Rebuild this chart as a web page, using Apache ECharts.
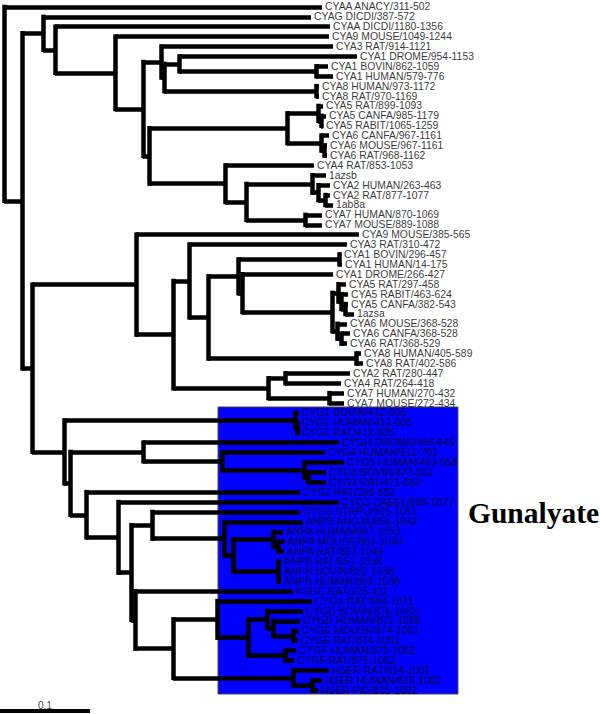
<!DOCTYPE html>
<html><head><meta charset="utf-8">
<script src="https://cdn.jsdelivr.net/npm/echarts@6/dist/echarts.min.js"></script>
<style>html,body{margin:0;padding:0;background:#fff}#c{width:600px;height:714px}</style>
</head><body><div id="c"></div>
<script>
// Leaves, top to bottom
const leafLabels = [
 'CYAA ANACY/311-502','CYAG DICDI/387-572','CYAA DICDI/1180-1356','CYA9 MOUSE/1049-1244','CYA3 RAT/914-1121',
 'CYA1 DROME/954-1153','CYA1 BOVIN/862-1059','CYA1 HUMAN/579-776','CYA8 HUMAN/973-1172','CYA8 RAT/970-1169',
 'CYA5 RAT/899-1093','CYA5 CANFA/985-1179','CYA5 RABIT/1065-1259','CYA6 CANFA/967-1161','CYA6 MOUSE/967-1161',
 'CYA6 RAT/968-1162','CYA4 RAT/853-1053','1azsb','CYA2 HUMAN/263-463','CYA2 RAT/877-1077',
 '1ab8a','CYA7 HUMAN/870-1069','CYA7 MOUSE/889-1088','CYA9 MOUSE/385-565','CYA3 RAT/310-472',
 'CYA1 BOVIN/296-457','CYA1 HUMAN/14-175','CYA1 DROME/266-427','CYA5 RAT/297-458','CYA5 RABIT/463-624',
 'CYA5 CANFA/382-543','1azsa','CYA6 MOUSE/368-528','CYA6 CANFA/368-528','CYA6 RAT/368-529',
 'CYA8 HUMAN/405-589','CYA8 RAT/402-586','CYA2 RAT/280-447','CYA4 RAT/264-418','CYA7 HUMAN/270-432',
 'CYA7 MOUSE/272-434','CYG1 BOVIN/412-605','CYG1 HUMAN/412-605','CYG1 RAT/412-605','CYGH DROME/456-645',
 'CYG4 HUMAN/512-701','CYG5 HUMAN/469-658','CYG3 BOVIN/473-662','CYG3 RAT/471-660','CYG2 RAT/399-582',
 'CYG3 CAEEL/889-1077','CYGS STRPU/905-1091','ANPB ANGJA/856-1042','ANPA HUMAN/867-1053','ANPA MOUSE/863-1049',
 'ANPA RAT/863-1049','ANPB RAT/852-1038','ANPB BOVIN/852-1038','ANPB HUMAN/852-1038','KSGC RAT/225-411',
 'CYGX RAT/884-1071','CYGD BOVIN/876-1063','CYGD HUMAN/871-1058','CYGE MOUSE/874-1061','CYGE RAT/874-1061',
 'CYGF HUMAN/875-1062','CYGF RAT/875-1062','HSER RAT/814-1001','HSER HUMAN/815-1002','HSER PIG/815-1002'
];
// internal node each leaf hangs from
const leafParent = [
 0,2,3,4,6, 8,9,9,10,10, 13,14,14,15,16, 16,17,19,20,21,
 21,22,22,24,26, 29,29,30,32,33, 34,34,35,36,36, 37,37,39,39,40,
 40,42,43,43,45, 46,47,48,48,49, 50,52,53,55,56, 56,57,57,57,58,
 60,62,63,64,64, 65,65,66,67,67
];
// distance of each leaf from the root
const leafDepth = [
 0.3533,0.3411,0.3622,0.3611,0.3656, 0.3922,0.3600,0.3656,0.3500,0.3500,
 0.3544,0.3578,0.3544,0.3611,0.3589, 0.3589,0.3444,0.3578,0.3622,0.3622,
 0.3656,0.3533,0.3533,0.3944,0.3811, 0.3744,0.3756,0.3656,0.3800,0.3822,
 0.3822,0.3889,0.3811,0.3844,0.3811, 0.3967,0.3989,0.3844,0.3744,0.3778,
 0.3778,0.3278,0.3278,0.3278,0.3722, 0.3567,0.3778,0.3578,0.3578,0.3289,
 0.3722,0.3289,0.3322,0.3100,0.3122, 0.3111,0.3078,0.3078,0.3078,0.3211,
 0.3422,0.3322,0.3289,0.3278,0.3267, 0.3244,0.3222,0.3611,0.3533,0.3489
];
// internal nodes: parent index (-1 = root) and distance from the root
const nodeParent = [
 -1,0,1,2,3, 4,5,6,7,8, 7,5,11,12,13, 12,15,11,17,18,
 19,20,18,1,23, 24,25,26,27,28, 28,30,31,32,33, 31,35,27,25,38,
 38,23,41,42,41, 44,45,46,47,44, 49,50,51,52,53, 54,55,54,51,58,
 59,60,61,62,63, 61,59,66
];
const nodeDepth = [
 0.0000,0.0200,0.0433,0.0567,0.1233, 0.1544,0.1744,0.1778,0.1944,0.3467,
 0.3467,0.1611,0.3144,0.3489,0.3522, 0.3522,0.3556,0.2456,0.2689,0.3422,
 0.3489,0.3567,0.3344,0.0311,0.1467, 0.1878,0.2056,0.2267,0.2600,0.3722,
 0.2644,0.3644,0.3711,0.3744,0.3789, 0.3700,0.3744,0.3911,0.2933,0.3122,
 0.3611,0.0667,0.3233,0.3256,0.0733, 0.1544,0.2422,0.3333,0.3378,0.0911,
 0.1267,0.1411,0.1644,0.2444,0.2544, 0.2989,0.3044,0.3044,0.1456,0.1878,
 0.2367,0.2711,0.2922,0.2989,0.3211, 0.3122,0.3211,0.3422
];
const scaleBarLength = 0.1;
const scaleBarLabel = '0.1';
const cladeName = 'Gunalyate';
const cladeFirstLeaf = 41;
const cladeLastLeaf = 69;

// ---- layout from the tree ----
const nNodes = nodeParent.length;
const kids = Array.from({length: nNodes}, () => []);
leafParent.forEach((p, i) => kids[p].push({leaf: true, i}));
nodeParent.forEach((p, i) => { if (p >= 0) kids[p].push({leaf: false, i}); });
const nodeY = new Array(nNodes);
function yOf(c) { return c.leaf ? c.i : nodeYOf(c.i); }
function nodeYOf(i) {
  if (nodeY[i] === undefined) {
    const ys = kids[i].map(yOf);
    nodeY[i] = (Math.min(...ys) + Math.max(...ys)) / 2;
  }
  return nodeY[i];
}
for (let i = 0; i < nNodes; i++) nodeYOf(i);

const verticals = [], horizontals = [];
for (let i = 0; i < nNodes; i++) {
  const ys = kids[i].map(yOf);
  verticals.push({coords: [[nodeDepth[i], Math.min(...ys)], [nodeDepth[i], Math.max(...ys)]]});
  kids[i].forEach(c => {
    const d = c.leaf ? leafDepth[c.i] : nodeDepth[c.i];
    horizontals.push({coords: [[nodeDepth[i], yOf(c)], [d, yOf(c)]]});
  });
}
const labelData = leafLabels.map((t, i) => ({name: t, value: [leafDepth[i], i]}));

const xMin = -0.004444, xMax = 0.662222;
const yMin = -0.7, yMax = 71.4;
const barY = 71.1;

const chart = echarts.init(document.getElementById('c'), null, {renderer: 'svg'});
chart.setOption({
  animation: false,
  backgroundColor: '#fff',
  grid: {left: 0, right: 0, top: 0, bottom: 0},
  xAxis: {type: 'value', min: xMin, max: xMax, show: false},
  yAxis: {type: 'value', min: yMin, max: yMax, inverse: true, show: false},
  graphic: [{
    type: 'text', x: 468, y: 513, silent: true,
    style: {text: cladeName, fontFamily: '"Liberation Serif", "Times New Roman", serif', fontWeight: 'bold',
      fontSize: 29.5, fill: '#000', verticalAlign: 'middle'}
  }],
  series: [
    {
      type: 'scatter', z: 1, silent: true, symbolSize: 0,
      data: [[xMin, yMin]],
      markArea: {
        silent: true,
        itemStyle: {color: '#0000ff', borderColor: '#444', borderWidth: 1},
        data: [[{xAxis: 0.2378, yAxis: cladeFirstLeaf - 0.6}, {xAxis: 0.5044, yAxis: cladeLastLeaf + 0.38}]]
      }
    },
    {
      type: 'lines', coordinateSystem: 'cartesian2d', z: 3, silent: true,
      lineStyle: {color: '#000', width: 4.5, opacity: 1, cap: 'square', curveness: 0},
      data: verticals
    },
    {
      type: 'lines', coordinateSystem: 'cartesian2d', z: 3, silent: true,
      lineStyle: {color: '#000', width: 4.5, opacity: 1, cap: 'butt', curveness: 0},
      data: horizontals
    },
    {
      type: 'scatter', z: 5, silent: true, symbolSize: 0,
      data: labelData,
      label: {show: true, position: 'right', distance: 3, color: '#000', fontSize: 10.4,
        fontFamily: '"Liberation Sans", Arial, sans-serif', formatter: p => p.name}
    },
    {
      type: 'lines', coordinateSystem: 'cartesian2d', z: 3, silent: true,
      lineStyle: {color: '#000', width: 4, opacity: 1, cap: 'butt'},
      data: [{coords: [[xMin, barY], [xMin + scaleBarLength, barY]]}]
    },
    {
      type: 'scatter', z: 5, silent: true, symbolSize: 0,
      data: [{name: scaleBarLabel, value: [xMin + scaleBarLength / 2, 70.55]}],
      label: {show: true, position: 'inside', color: '#000', fontSize: 10,
        fontFamily: '"Liberation Sans", Arial, sans-serif', formatter: p => p.name}
    }
  ]
});
</script></body></html>
